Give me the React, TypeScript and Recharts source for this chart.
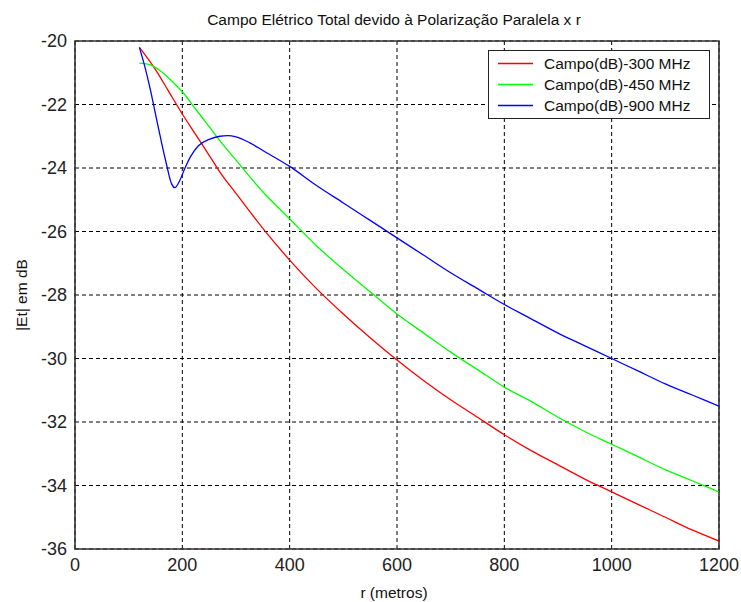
import React from 'react';
import { LineChart, Line, XAxis, YAxis, CartesianGrid, Legend, ReferenceArea, Label } from 'recharts';

const titleText = 'Campo Elétrico Total devido à Polarização Paralela x r';
const xLabelText = 'r (metros)';
const yLabelText = '|Et| em dB';

const xTicks = [0, 200, 400, 600, 800, 1000, 1200];
const yTicks = [-36, -34, -32, -30, -28, -26, -24, -22, -20];

const seriesNames = ['Campo(dB)-300 MHz', 'Campo(dB)-450 MHz', 'Campo(dB)-900 MHz'];
const seriesColors = ['#ff0000', '#00ff00', '#0000ff'];

const r300 = [120, 150, 175, 200, 225, 250, 275, 300, 350, 400, 450, 500, 550, 600, 650, 700, 750, 800, 850, 900, 950, 1000, 1050, 1100, 1150, 1200];
const campo300 = [-20.2, -20.9, -21.6, -22.3, -22.95, -23.6, -24.25, -24.8, -25.9, -26.9, -27.8, -28.6, -29.35, -30.05, -30.7, -31.3, -31.85, -32.4, -32.9, -33.35, -33.8, -34.2, -34.6, -35.0, -35.4, -35.75];

const r450 = [120, 140, 160, 180, 200, 225, 250, 275, 300, 350, 400, 450, 500, 550, 600, 650, 700, 750, 800, 850, 900, 950, 1000, 1050, 1100, 1150, 1200];
const campo450 = [-20.7, -20.75, -20.95, -21.25, -21.6, -22.15, -22.7, -23.25, -23.75, -24.75, -25.6, -26.45, -27.2, -27.9, -28.6, -29.2, -29.8, -30.35, -30.9, -31.35, -31.85, -32.3, -32.7, -33.1, -33.5, -33.85, -34.2];

const r900 = [120, 130, 140, 150, 160, 170, 180, 186, 195, 205, 215, 230, 250, 270, 285, 300, 325, 350, 400, 450, 500, 550, 600, 650, 700, 750, 800, 850, 900, 950, 1000, 1050, 1100, 1150, 1200];
const campo900 = [-20.2, -20.8, -21.5, -22.3, -23.1, -23.85, -24.5, -24.62, -24.4, -24.0, -23.65, -23.3, -23.1, -23.0, -22.98, -23.02, -23.2, -23.45, -23.95, -24.55, -25.1, -25.65, -26.2, -26.75, -27.3, -27.8, -28.3, -28.75, -29.2, -29.6, -30.0, -30.4, -30.8, -31.15, -31.5];

const toPoints = (rs: number[], vs: number[]) => rs.map((r, i) => ({ r, v: vs[i] }));
const seriesData = [toPoints(r300, campo300), toPoints(r450, campo450), toPoints(r900, campo900)];

const FONT = '"Liberation Sans", Arial, sans-serif';

const LegendBox = () => (
  <div
    style={{
      boxSizing: 'border-box',
      width: 222,
      height: 69,
      border: '1px solid #222',
      background: '#fff',
      paddingTop: 2,
      fontFamily: FONT,
      fontSize: 15.5,
      color: '#111',
    }}
  >
    {seriesNames.map((name, i) => (
      <div key={name} style={{ display: 'flex', alignItems: 'center', height: 21, lineHeight: '21px', whiteSpace: 'nowrap' }}>
        <svg width={55} height={21} style={{ flex: 'none' }}>
          <line x1={9} x2={44} y1={10.5} y2={10.5} stroke={seriesColors[i]} strokeWidth={1.3} />
        </svg>
        <span>{name}</span>
      </div>
    ))}
  </div>
);

export default function App() {
  return (
    <div style={{ position: 'absolute', left: 0, top: 0, width: 741, height: 602, background: '#fff' }}>
      <div
        style={{
          position: 'absolute',
          left: 94,
          width: 600,
          top: 10,
          height: 20,
          lineHeight: '20px',
          textAlign: 'center',
          fontFamily: FONT,
          fontSize: 15.5,
          color: '#111',
          whiteSpace: 'nowrap',
        }}
      >
        {titleText}
      </div>
      <LineChart
        width={741}
        height={602}
        margin={{ top: 41, right: 22, left: 0, bottom: 0 }}
        style={{ fontFamily: FONT }}
      >
        <CartesianGrid stroke="#000" strokeDasharray="4 3" strokeWidth={1} />
        <XAxis
          dataKey="r"
          type="number"
          domain={[0, 1200]}
          ticks={xTicks}
          allowDataOverflow
          height={53}
          axisLine={false}
          tickLine={false}
          tickSize={6}
          tickMargin={3}
          tick={{ fontSize: 18, fill: '#222' }}
        >
          <Label
            content={({ viewBox }: any) => (
              <text
                x={viewBox.x + viewBox.width / 2 - 3}
                y={viewBox.y + 49}
                textAnchor="middle"
                fontSize={15.5}
                fill="#111"
                fontFamily={FONT}
              >
                {xLabelText}
              </text>
            )}
          />
        </XAxis>
        <YAxis
          type="number"
          domain={[-36, -20]}
          ticks={yTicks}
          allowDataOverflow
          width={75}
          axisLine={false}
          tickLine={false}
          tickSize={6}
          tickMargin={2}
          tick={{ fontSize: 18, fill: '#222' }}
        >
          <Label
            content={({ viewBox }: any) => {
              const cx = 21;
              const cy = viewBox.y + viewBox.height / 2;
              return (
                <text
                  x={cx}
                  y={cy}
                  textAnchor="middle"
                  dominantBaseline="central"
                  fontSize={15.5}
                  fill="#111"
                  fontFamily={FONT}
                  transform={`rotate(-90, ${cx}, ${cy})`}
                >
                  {yLabelText}
                </text>
              );
            }}
          />
        </YAxis>
        <ReferenceArea x1={0} x2={1200} y1={-36} y2={-20} fill="none" stroke="#333" strokeWidth={1.6} />
        {seriesData.map((pts, i) => (
          <Line
            key={seriesNames[i]}
            data={pts}
            dataKey="v"
            name={seriesNames[i]}
            type="monotone"
            stroke={seriesColors[i]}
            strokeWidth={1.3}
            dot={false}
            activeDot={false}
            isAnimationActive={false}
          />
        ))}
        <Legend
          layout="vertical"
          align="center"
          verticalAlign="middle"
          content={() => <LegendBox />}
          wrapperStyle={{ left: 488, top: 50, width: 222, height: 69, margin: 0 }}
        />
      </LineChart>
    </div>
  );
}
